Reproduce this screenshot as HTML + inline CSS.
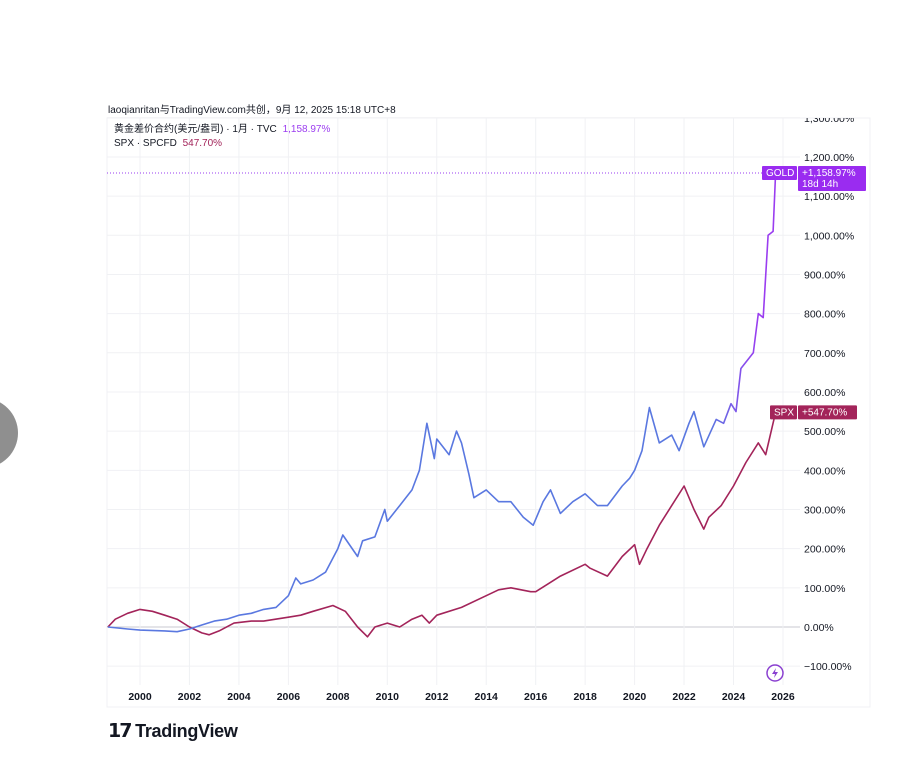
<!DOCTYPE html>
<html><head><meta charset="utf-8"><style>
body{margin:0;width:920px;height:776px;background:#fff;position:relative;overflow:hidden;font-family:"Liberation Sans","Noto Sans CJK SC",sans-serif}
.t{position:absolute;white-space:nowrap}
</style></head><body>
<div class="t" style="left:0;top:398px;width:18px;height:70px;overflow:hidden"><div style="position:absolute;left:-52px;top:0;width:70px;height:70px;border-radius:50%;background:#8f8f8f"></div></div>
<div class="t" style="left:108px;top:101px;font-size:10px;color:#131722">laoqianritan与TradingView.com共创，9月 12, 2025 15:18 UTC+8</div>
<svg id="c" width="920" height="776" style="position:absolute;left:0;top:0"></svg>
<div class="t" style="left:114px;top:123px;font-size:10px;line-height:13px;color:#131722">黄金差价合约(美元/盎司) · 1月 · TVC <span style="color:#9c3df0;margin-left:3px">1,158.97%</span></div>
<div class="t" style="left:114px;top:137px;font-size:10px;line-height:13px;color:#131722">SPX · SPCFD <span style="color:#a3245a;margin-left:3px">547.70%</span></div>
<div class="t" style="left:108px;top:720px;font-size:18px;font-weight:bold;color:#131722;letter-spacing:-0.3px"><span style="font-size:19px;letter-spacing:-2px">𝟭𝟳</span> TradingView</div>
<script>
const ns="http://www.w3.org/2000/svg";
const svg=document.getElementById('c');
const yTicks=[1300,1200,1100,1000,900,800,700,600,500,400,300,200,100,0,-100];
const xTicks=[2000,2002,2004,2006,2008,2010,2012,2014,2016,2018,2020,2022,2024,2026];
const goldYears=[1998.7,1999.5,2000,2001,2001.5,2002,2002.5,2003,2003.5,2004,2004.5,2005,2005.5,2006,2006.3,2006.5,2007,2007.5,2008,2008.2,2008.8,2009,2009.5,2009.9,2010,2010.5,2011,2011.3,2011.6,2011.9,2012,2012.5,2012.8,2013,2013.3,2013.5,2014,2014.5,2015,2015.5,2015.9,2016.3,2016.6,2017,2017.5,2018,2018.5,2018.9,2019.5,2019.8,2020,2020.3,2020.6,2021,2021.5,2021.8,2022.2,2022.4,2022.8,2023.3,2023.6,2023.9,2024.1,2024.3,2024.8,2025,2025.2,2025.4,2025.6,2025.7];
const goldVals=[0,-5,-8,-10,-12,-5,5,15,20,30,35,45,50,80,125,110,120,140,200,235,180,220,230,300,270,310,350,400,520,430,480,440,500,470,390,330,350,320,320,280,260,320,350,290,320,340,310,310,360,380,400,450,560,470,490,450,520,550,460,530,520,570,550,660,700,800,790,1000,1010,1159];
const spxYears=[1998.7,1999,1999.5,2000,2000.5,2001,2001.5,2002,2002.5,2002.8,2003.2,2003.8,2004.5,2005,2006,2006.5,2007,2007.8,2008.3,2008.8,2009.2,2009.5,2010,2010.5,2011,2011.4,2011.7,2012,2013,2014,2014.5,2015,2015.8,2016,2016.5,2017,2018,2018.2,2018.9,2019.5,2020,2020.2,2020.5,2021,2021.5,2022,2022.4,2022.8,2023,2023.5,2024,2024.5,2025,2025.3,2025.7];
const spxVals=[0,20,35,45,40,30,20,0,-15,-20,-10,10,15,15,25,30,40,55,40,0,-25,0,10,0,20,30,10,30,50,80,95,100,90,90,110,130,160,150,130,180,210,160,200,260,310,360,300,250,280,310,360,420,470,440,548];
const X=y=>140+(y-2000)*24.73;
const Y=v=>627-v*0.3917;
function el(t,a,p){const e=document.createElementNS(ns,t);for(const k in a)e.setAttribute(k,a[k]);(p||svg).appendChild(e);return e;}
const defs=el('defs',{});
const g=el('linearGradient',{id:'gg',gradientUnits:'userSpaceOnUse',x1:X(2023),y1:0,x2:X(2025),y2:0},defs);
el('stop',{offset:0,'stop-color':'#5a78e0'},g);el('stop',{offset:1,'stop-color':'#9a3df0'},g);
const cp=el('clipPath',{id:'cp'},defs);el('rect',{x:0,y:118,width:920,height:600},cp);
const frame=el('rect',{x:107,y:118,width:763,height:589,fill:'none',stroke:'#f0f1f4'});

yTicks.forEach(v=>{
 const l=el('line',{x1:107,x2:800,y1:Y(v),y2:Y(v),stroke:v===0?'#c8cad0':'#f0f1f4'});
 
 const t=el('text',{x:804,y:Y(v)+4,'font-size':10.5,fill:'#131722','font-family':'Liberation Sans','clip-path':'url(#cp)'});
 t.textContent=(v<0?'−':'')+Math.abs(v).toLocaleString('en-US')+'.00%';
 
});
xTicks.forEach(y=>{
 const l=el('line',{x1:X(y),x2:X(y),y1:118,y2:685,stroke:'#f0f1f4'});
 
 const t=el('text',{x:X(y),y:700,'font-size':10.5,'font-weight':'bold',fill:'#131722','text-anchor':'middle','font-family':'Liberation Sans'});
 t.textContent=y;
 
});
const dl=el('line',{x1:107,x2:762,y1:Y(1159),y2:Y(1159),stroke:'#9a3df0','stroke-dasharray':'1 2'});

function path(xs,vs,stroke,name){
 const p=el('path',{d:xs.map((x,i)=>(i?'L':'M')+X(x).toFixed(1)+' '+Y(vs[i]).toFixed(1)).join(''),fill:'none',stroke:stroke,'stroke-width':1.6,'stroke-linejoin':'round'});
 
}
path(spxYears,spxVals,'#a3245a','spx-line');
path(goldYears,goldVals,'url(#gg)','gold-line');
function tag(x,w,y,h,txt,col,name){
 const r=el('rect',{x:x,y:y,width:w,height:h,fill:col,rx:1});
 
 txt.forEach((s,i)=>{const t=el('text',{x:x+4,y:y+10+i*11,'font-size':10,fill:'#fff','font-family':'Liberation Sans'});t.textContent=s;
 });
}
const gy=Y(1159);
tag(762,35,gy-7,14,['GOLD'],'#9a2cf0','gold-tag');
tag(798,68,gy-7,25,['+1,158.97%','18d 14h'],'#9a2cf0','gold-value-tag');
const sy=Y(548);
tag(770,27,sy-7,14,['SPX'],'#a3245a','spx-tag');
tag(798,59,sy-7,14,['+547.70%'],'#a3245a','spx-value-tag');
const ic=el('circle',{cx:775,cy:673,r:8,fill:'#fff',stroke:'#8a3fd0','stroke-width':1.5});

const bolt=el('path',{d:'M776 668 L772 674 L775 674 L774 678 L778 672 L775 672 Z',fill:'#8a3fd0'});

</script>
</body></html>
